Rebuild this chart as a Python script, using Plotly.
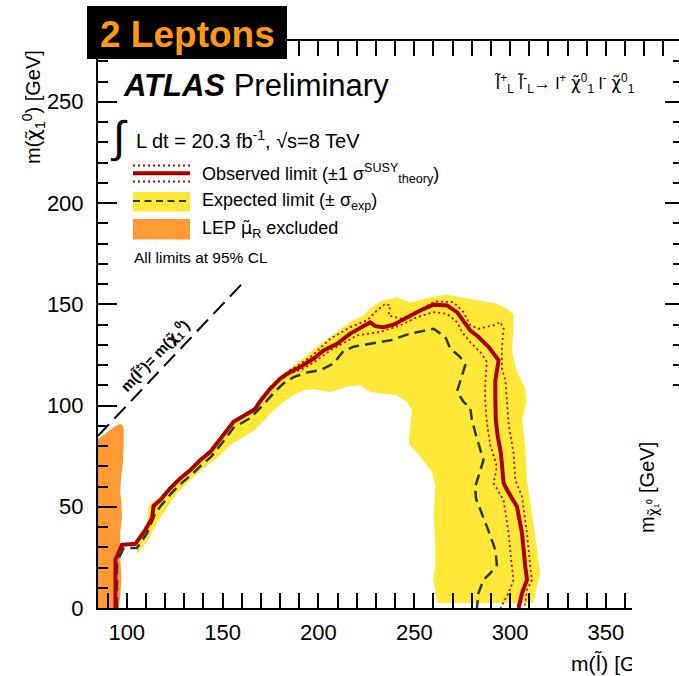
import plotly.graph_objects as go

# ---------------- data (GeV) ----------------
# observed 95% CL exclusion contour
obs_x = [94.1, 94.1, 97.5, 104.5, 109.7, 113.2, 114.0, 117.5, 122.7, 127.9, 133.2, 138.4, 143.6,
         150.5, 155.7, 162.7, 166.7, 169.7, 174.9, 180.1, 185.3, 190.5, 197.5, 202.7, 209.7, 216.6,
         221.8, 227.0, 229.7, 233.9, 239.2, 246.2, 253.1, 260.1, 267.1, 272.3, 275.7, 279.2, 283.5,
         288.8, 294.0, 292.3, 292.3, 292.5, 293.5, 295.2, 296.6, 298.4, 303.6, 306.2, 307.9, 308.8,
         306.2, 304.4]
obs_y = [0.0, 23.8, 31.2, 31.7, 38.6, 44.3, 50.4, 53.3, 59.1, 64.0, 68.1, 73.1, 77.1,
         85.5, 92.0, 95.8, 98.0, 102.2, 108.4, 113.3, 116.6, 119.0, 123.2, 127.2, 130.5, 135.5,
         138.5, 141.0, 139.2, 138.7, 139.9, 143.6, 146.9, 149.8, 149.4, 146.1, 142.0, 137.1, 133.8,
         128.9, 122.3, 112.5, 103.4, 93.0, 85.0, 76.4, 61.6, 58.3, 50.0, 36.9, 20.5, 13.9,
         7.4, 0.0]

# observed +1 sigma(theory)
obs_up_x = [93.8, 93.8, 97.3, 104.3, 109.5, 113.0, 113.8, 117.3, 122.5, 127.7, 133.0, 138.2, 143.4,
            150.3, 155.5, 162.5, 166.5, 169.5, 174.7, 179.9, 185.0, 190.0, 197.0, 206.2, 216.6, 225.3,
            230.5, 234.9, 237.5, 236.6, 242.7, 251.4, 258.3, 261.8, 270.5, 275.7, 279.2, 283.5, 291.4,
            294.9, 296.6, 295.7, 295.7, 297.5, 298.4, 299.3, 301.8, 302.7, 306.2, 308.8, 310.5, 311.4,
            308.8, 307.9, 307.6]
obs_up_y = [0.0, 24.0, 31.5, 32.0, 38.9, 44.6, 50.7, 53.6, 59.4, 64.3, 68.4, 73.4, 77.4,
            85.8, 92.3, 96.1, 98.3, 102.5, 108.7, 113.7, 117.3, 120.2, 124.8, 133.0, 138.7, 142.0,
            146.9, 150.2, 149.4, 144.5, 142.9, 146.1, 150.2, 151.4, 151.0, 146.1, 139.6, 137.9, 139.6,
            141.2, 137.9, 128.1, 118.2, 112.5, 101.8, 90.3, 76.4, 63.2, 55.0, 36.9, 20.5, 13.9,
            9.0, 1.6, 0.0]

# observed -1 sigma(theory)
obs_dn_x = [94.4, 94.4, 97.7, 104.7, 109.9, 113.4, 114.2, 117.7, 122.9, 128.1, 133.4, 138.6, 143.8,
            150.7, 155.9, 162.9, 166.9, 169.9, 175.1, 180.3, 185.6, 191.0, 198.0, 206.2, 220.1, 232.3,
            242.7, 251.4, 260.1, 267.1, 272.3, 274.9, 279.2, 284.4, 287.9, 287.0, 287.0, 287.9, 289.7,
            293.1, 291.4, 296.6, 299.2, 300.9, 301.8, 299.2, 295.7, 295.0]
obs_dn_y = [0.0, 23.5, 30.9, 31.4, 38.3, 44.0, 50.1, 53.0, 58.8, 63.7, 67.8, 72.8, 76.8,
            85.2, 91.7, 95.5, 97.7, 101.9, 108.1, 112.9, 115.9, 117.8, 121.5, 127.2, 134.6, 136.3,
            139.6, 143.6, 146.1, 145.3, 141.2, 136.3, 131.3, 126.4, 121.5, 111.6, 101.8, 91.0, 80.4,
            69.8, 61.6, 53.3, 36.9, 20.5, 13.9, 7.4, 1.6, 0.0]

# expected limit
exp_x = [94.9, 94.9, 98.4, 105.3, 110.6, 114.9, 118.4, 123.5, 128.6, 133.8, 139.0, 144.3, 150.0,
         155.7, 164.4, 171.4, 176.6, 181.8, 187.0, 194.0, 201.0, 207.9, 213.1, 218.3, 227.0, 237.5,
         247.9, 260.1, 266.2, 268.8, 274.0, 276.6, 272.3, 275.7, 279.2, 280.0, 282.7, 286.1, 281.8,
         282.2, 287.9, 292.3, 293.1, 289.7, 286.1, 283.5, 282.7]
exp_y = [0.0, 22.5, 29.6, 29.6, 36.9, 46.8, 51.2, 56.9, 61.7, 65.8, 70.6, 75.0, 81.8,
         89.0, 93.8, 100.5, 106.2, 111.0, 114.0, 116.3, 117.4, 120.7, 127.0, 129.0, 130.5, 132.2,
         135.5, 137.9, 133.8, 128.1, 123.9, 119.9, 107.0, 101.8, 98.8, 93.0, 83.7, 73.1, 59.9,
         54.0, 40.2, 28.7, 21.3, 17.2, 13.9, 7.4, 0.0]

# expected +/-1 sigma band: outer edge, then inner edge
exp_hi_x = [105.0, 110.0, 111.0, 111.5, 114.5, 117.5, 122.7, 127.9, 133.2, 138.4, 143.6, 150.5,
            155.7, 162.7, 166.7, 169.7, 174.9, 180.1, 185.3, 191.0, 199.2, 206.2, 216.6, 223.5,
            227.0, 232.3, 241.0, 248.0, 258.3, 267.1, 279.2, 293.1, 296.6, 301.8, 301.8, 301.0,
            303.6, 307.9, 308.5, 306.2, 307.9, 308.8, 311.4, 314.0, 315.7, 314.0, 312.3, 312.0]
exp_hi_y = [30.5, 37.5, 45.5, 50.8, 53.0, 55.0, 60.5, 65.2, 69.3, 74.3, 78.5, 86.8,
            93.2, 97.0, 99.3, 103.4, 109.8, 114.8, 118.5, 122.5, 128.9, 134.0, 141.2, 144.5,
            148.0, 151.4, 153.5, 151.0, 153.5, 154.7, 152.7, 150.2, 148.6, 145.3, 139.6, 126.4,
            116.6, 108.4, 102.0, 92.8, 79.6, 63.2, 46.8, 30.3, 17.2, 10.6, 3.3, 2.5]
exp_lo_x = [105.3, 110.6, 115.8, 120.1, 126.2, 133.2, 140.1, 147.1, 154.0, 161.0, 166.2, 169.7,
            174.9, 181.8, 187.0, 192.3, 197.5, 206.2, 214.9, 221.8, 227.0, 241.0, 246.2, 248.8,
            247.9, 247.1, 253.1, 259.2, 261.0, 260.1, 261.0, 261.0, 259.8, 261.0, 261.8]
exp_lo_y = [26.5, 32.8, 41.9, 48.4, 56.7, 63.2, 69.0, 73.9, 80.5, 84.5, 87.5, 90.5,
            96.1, 101.8, 105.1, 107.5, 108.0, 106.7, 109.2, 110.0, 106.7, 105.1, 101.8, 97.7,
            89.5, 81.3, 74.7, 67.3, 59.9, 46.8, 30.3, 20.5, 13.9, 9.0, 2.5]

# LEP right-smuon exclusion
lep_x = [85.0, 85.0, 88.0, 91.0, 94.0, 96.5, 97.8, 98.4, 98.4, 98.0, 97.0, 96.6, 97.3, 97.5,
         96.6, 96.6, 97.2, 96.8, 96.0]
lep_y = [0.0, 83.3, 85.5, 87.5, 89.8, 91.0, 90.3, 88.0, 80.0, 72.0, 64.0, 57.0, 51.0, 45.0,
         37.0, 25.0, 15.0, 8.0, 0.0]

# kinematic boundary m(slepton) = m(neutralino)
diag_x = [85.0, 160.5]
diag_y = [85.0, 160.5]

x_range = [85.0, 388.1]
y_range = [0.0, 280.0]
x_ticks = [100, 150, 200, 250, 300, 350]
y_ticks = [0, 50, 100, 150, 200, 250]

# ---------------- styling ----------------
FONT = "Liberation Sans, Arial, Helvetica, sans-serif"
RED = "#AA0000"
DOT_RED = "#C40000"
YELLOW = "#FFE838"
ORANGE = "#FE9A35"
DASH_COL = "#2C3A42"

W, H = 679, 676
PL, PR, PT, PB = 98, 679, 41, 608   # plot-area edges in pixels


def fx(px):
    return (px - PL) / (PR - PL)


def fy(py):
    return (PB - py) / (PB - PT)


def tl(ch):
    """Letter with a combining tilde, set in a font that places the mark well."""
    return "<span style='font-family:DejaVu Sans'>" + ch + "\u0303</span>"


fig = go.Figure()

band_x = exp_hi_x + exp_lo_x[::-1]
band_y = exp_hi_y + exp_lo_y[::-1]
fig.add_trace(go.Scatter(x=band_x, y=band_y, mode="lines", fill="toself", fillcolor=YELLOW,
                         line=dict(width=0, color=YELLOW), hoverinfo="skip"))
fig.add_trace(go.Scatter(x=lep_x, y=lep_y, mode="lines", fill="toself", fillcolor=ORANGE,
                         line=dict(width=0, color=ORANGE), hoverinfo="skip"))
fig.add_trace(go.Scatter(x=diag_x, y=diag_y, mode="lines",
                         line=dict(color="black", width=2, dash="16px,8px"), hoverinfo="skip"))
fig.add_trace(go.Scatter(x=exp_x, y=exp_y, mode="lines",
                         line=dict(color=DASH_COL, width=2.5, dash="11px,6px"), hoverinfo="skip"))
fig.add_trace(go.Scatter(x=obs_up_x, y=obs_up_y, mode="lines",
                         line=dict(color=DOT_RED, width=1.8, dash="2px,3px"), hoverinfo="skip"))
fig.add_trace(go.Scatter(x=obs_dn_x, y=obs_dn_y, mode="lines",
                         line=dict(color=DOT_RED, width=1.8, dash="2px,3px"), hoverinfo="skip"))
fig.add_trace(go.Scatter(x=obs_x, y=obs_y, mode="lines",
                         line=dict(color=RED, width=4), hoverinfo="skip"))
# carrier for the right-hand tick axis
fig.add_trace(go.Scatter(x=[None], y=[None], yaxis="y2", mode="lines", hoverinfo="skip"))

tickfont = dict(family=FONT, size=22, color="black")

fig.update_layout(
    width=W, height=H, template="none", showlegend=False,
    paper_bgcolor="white", plot_bgcolor="white",
    margin=dict(l=PL, r=W - PR, t=PT, b=H - PB, pad=0),
    xaxis=dict(range=x_range, tickvals=x_ticks, ticktext=[str(v) for v in x_ticks],
               showgrid=False, zeroline=False, showline=True, linecolor="black", linewidth=2,
               mirror="allticks", ticks="inside", ticklen=15, tickwidth=1.5, tickcolor="black",
               minor=dict(ticks="inside", ticklen=8, tickwidth=1.5, tickcolor="black",
                          dtick=10, tick0=0, showgrid=False),
               tickfont=tickfont, ticklabelstandoff=4, automargin=False, fixedrange=True),
    yaxis=dict(range=y_range, tickvals=y_ticks, ticktext=[str(v) for v in y_ticks],
               showgrid=False, zeroline=False, showline=True, linecolor="black", linewidth=2,
               mirror=False, ticks="inside", ticklen=19, tickwidth=1.5, tickcolor="black",
               minor=dict(ticks="inside", ticklen=10, tickwidth=1.5, tickcolor="black",
                          dtick=10, tick0=0, showgrid=False),
               tickfont=tickfont, ticklabelstandoff=8, automargin=False, fixedrange=True),
    yaxis2=dict(range=y_range, overlaying="y", side="right", tickvals=y_ticks,
                showticklabels=False, showgrid=False, zeroline=False, showline=False,
                ticks="inside", ticklen=14, tickwidth=1.5, tickcolor="black",
                minor=dict(ticks="inside", ticklen=6, tickwidth=1.5, tickcolor="black",
                           dtick=10, tick0=0, showgrid=False),
                automargin=False, fixedrange=True),
)

shapes = []
# "2 Leptons" banner
shapes.append(dict(type="rect", xref="paper", yref="paper", x0=fx(87), x1=fx(287),
                   y0=fy(59), y1=fy(6), fillcolor="black", line=dict(width=0), layer="above"))
# legend samples
shapes.append(dict(type="line", xref="paper", yref="paper", x0=fx(133), x1=fx(190),
                   y0=fy(165.5), y1=fy(165.5), line=dict(color=DOT_RED, width=1.8, dash="2px,3px"),
                   layer="above"))
shapes.append(dict(type="line", xref="paper", yref="paper", x0=fx(133), x1=fx(190),
                   y0=fy(181.5), y1=fy(181.5), line=dict(color=DOT_RED, width=1.8, dash="2px,3px"),
                   layer="above"))
shapes.append(dict(type="line", xref="paper", yref="paper", x0=fx(133), x1=fx(190),
                   y0=fy(173.3), y1=fy(173.3), line=dict(color=RED, width=4), layer="above"))
shapes.append(dict(type="rect", xref="paper", yref="paper", x0=fx(133), x1=fx(190),
                   y0=fy(211.5), y1=fy(192), fillcolor=YELLOW, line=dict(width=0), layer="above"))
shapes.append(dict(type="line", xref="paper", yref="paper", x0=fx(133), x1=fx(190),
                   y0=fy(201), y1=fy(201), line=dict(color=DASH_COL, width=2, dash="7px,4.5px"),
                   layer="above"))
shapes.append(dict(type="rect", xref="paper", yref="paper", x0=fx(133), x1=fx(190),
                   y0=fy(239.5), y1=fy(219), fillcolor=ORANGE, line=dict(width=0), layer="above"))
fig.update_layout(shapes=shapes)


def note(text, px, py, size, xanchor="left", yanchor="middle", angle=0, color="black", **kw):
    return dict(text=text, xref="paper", yref="paper", x=fx(px), y=fy(py),
                xanchor=xanchor, yanchor=yanchor, showarrow=False, textangle=angle,
                font=dict(family=FONT, size=size, color=color), **kw)


ann = []
ann.append(note("<b>2 Leptons</b>", 187, 35, 37, xanchor="center", color="#FF9912"))
ann.append(note("<b><i>ATLAS</i></b> Preliminary", 121, 85, 31))
ann.append(note("\u222b", 119, 137, 44, xanchor="center"))
ann.append(note("L dt = 20.3 fb<sup>-1</sup>, \u221as=8 TeV", 134, 139, 20))
ann.append(note("Observed limit (\u00b11 \u03c3<sup>SUSY</sup><sub>theory</sub>)", 200, 173, 18))
ann.append(note("Expected limit (\u00b1 \u03c3<sub>exp</sub>)", 200, 201, 18))
ann.append(note("LEP " + tl("\u03bc") + "<sub>R</sub> excluded", 200, 229, 18))
ann.append(note("All limits at 95% CL", 132, 257, 15.5))
ann.append(note(tl("l") + "<sup>+</sup><sub>L</sub> " + tl("l") + "<sup>-</sup><sub>L</sub>\u2192 l<sup>+</sup> "
                + tl("\u03c7") + "<sup>0</sup><sub>1</sub> l<sup>-</sup> "
                + tl("\u03c7") + "<sup>0</sup><sub>1</sub>",
                637, 83, 17, xanchor="right"))
# axis titles
ann.append(note("m(" + tl("\u03c7") + "<sub>1</sub><sup>0</sup>) [GeV]", 33, 107, 20,
                xanchor="center", angle=-90))
ann.append(note("m(" + tl("l") + ") [GeV]", 569, 663, 21))
# blank panel over the lower right corner
ann.append(dict(text=" ", xref="paper", yref="paper", x=fx(632), y=fy(392), xanchor="left",
                yanchor="top", width=60, height=300, bgcolor="white", borderpad=0,
                borderwidth=0, showarrow=False))
ann.append(note("m<sub>" + tl("\u03c7") + "\u2081\u2070</sub> [GeV]", 648, 488, 20,
                xanchor="center", angle=-90))
# label on the kinematic boundary
ann.append(dict(text="<b>m(" + tl("l") + "<sup>\u00b1</sup>)= m(" + tl("\u03c7")
                + "<sub>1</sub><sup>0</sup>)</b>",
                xref="x", yref="y", x=114.6, y=124.5, xanchor="center", yanchor="middle",
                textangle=-46.6, showarrow=False, font=dict(family=FONT, size=15, color="black")))
fig.update_layout(annotations=ann)

fig.write_html("out.html")
